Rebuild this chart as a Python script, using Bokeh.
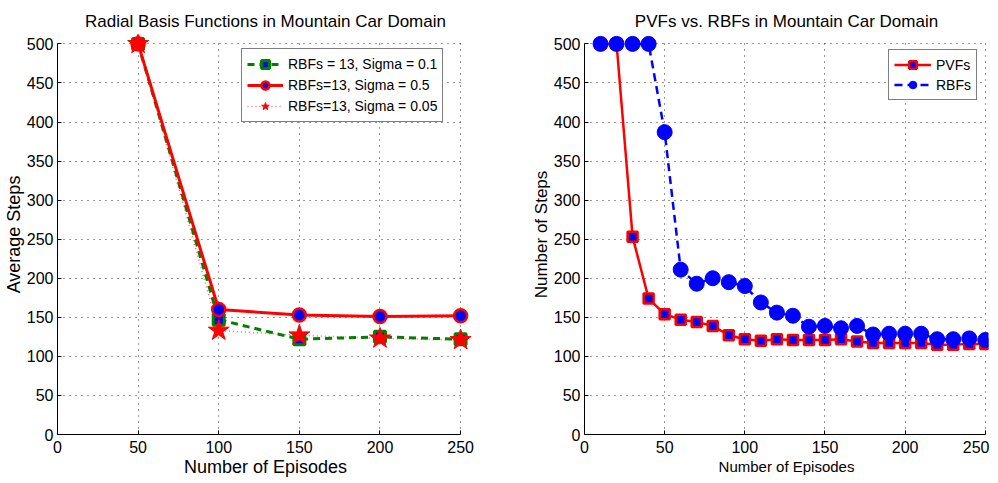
from bokeh.plotting import figure
from bokeh.layouts import row
from bokeh.models import Legend, LegendItem, FixedTicker, Range1d
from bokeh.embed import file_html
from bokeh.resources import INLINE

# ---------------- data ----------------
# Left chart: Radial Basis Functions in Mountain Car Domain
episodes_left = [50, 100, 150, 200, 250]
rbf_sigma_01 = [500, 147, 122, 125, 122]
rbf_sigma_05 = [500, 160, 153, 151, 152]
rbf_sigma_005 = [500, 133, 127, 123, 121]

# Right chart: PVFs vs. RBFs in Mountain Car Domain
episodes_right = [10, 20, 30, 40, 50, 60, 70, 80, 90, 100, 110, 120, 130,
                  140, 150, 160, 170, 180, 190, 200, 210, 220, 230, 240, 250]
pvfs = [500, 500, 253, 174, 154, 147, 144, 139, 127, 122, 120, 122, 121,
        121, 121, 122, 119, 117, 117, 117, 117, 115, 115, 116, 116]
rbfs = [500, 500, 500, 500, 387, 211, 193, 200, 195, 190, 169, 156, 152,
        138, 139, 136, 139, 128, 129, 129, 129, 122, 122, 123, 121]

x_ticks = [0, 50, 100, 150, 200, 250]
y_ticks = [0, 50, 100, 150, 200, 250, 300, 350, 400, 450, 500]

FONT = "Liberation Sans"
GREEN = "#008000"
RED = "#ff0000"
BLUE = "#0000ff"


def make_fig(title, x_end, frame_w, left_b, right_b, xlabel, ylabel,
             xl_size, yl_size, xl_standoff):
    p = figure(output_backend="svg", toolbar_location=None,
               frame_width=frame_w, frame_height=400,
               min_border_left=left_b, min_border_right=right_b,
               min_border_top=34, min_border_bottom=46,
               x_range=Range1d(0, x_end), y_range=Range1d(0, 512),
               title=title, background_fill_color="white",
               border_fill_color="white")
    p.outline_line_color = None
    p.title.text_font = FONT
    p.title.text_font_size = "17px"
    p.title.text_font_style = "normal"
    p.title.align = "center"
    p.title.standoff = 8
    p.title.text_color = "black"

    for ax, lab, sz, tk in ((p.xaxis[0], xlabel, xl_size, x_ticks),
                            (p.yaxis[0], ylabel, yl_size, y_ticks)):
        ax.ticker = FixedTicker(ticks=tk)
        ax.axis_label = lab
        ax.axis_label_text_font = FONT
        ax.axis_label_text_font_size = sz
        ax.axis_label_text_font_style = "normal"
        ax.axis_label_text_color = "black"
        ax.major_label_text_font = FONT
        ax.major_label_text_font_size = "16px"
        ax.major_label_text_color = "black"
        ax.major_tick_in = 4
        ax.major_tick_out = 0
        ax.minor_tick_line_color = None
        ax.axis_line_color = "black"
        ax.major_tick_line_color = "black"
        ax.axis_label_standoff = 0
        ax.major_label_standoff = 4
    p.xaxis.axis_label_standoff = xl_standoff
    p.xaxis.major_label_standoff = 6
    p.xaxis.bounds = (0, 250)
    p.yaxis.bounds = (0, 500)

    for g in (p.xgrid[0], p.ygrid[0]):
        g.grid_line_color = "#333333"
        g.grid_line_dash = "1 5"
        g.grid_line_width = 1
    p.xgrid.ticker = FixedTicker(ticks=x_ticks)
    p.ygrid.ticker = FixedTicker(ticks=y_ticks)
    p.xgrid.cross_bounds = (0, 500)
    p.ygrid.cross_bounds = (0, 250)
    return p


def style_legend(lg, gw, gh):
    lg.label_text_font = FONT
    lg.label_text_font_size = "14px"
    lg.label_text_color = "black"
    lg.glyph_width = gw
    lg.glyph_height = gh
    lg.label_height = gh
    lg.label_standoff = 5
    lg.padding = 5
    lg.spacing = 1
    lg.border_line_color = "black"
    lg.border_line_width = 1.5
    lg.background_fill_color = "white"
    lg.background_fill_alpha = 1.0
    lg.margin = 0


# ---------------- left figure ----------------
p1 = make_fig("Radial Basis Functions in Mountain Car Domain", 258, 416, 50, 25,
              "Number of Episodes", "Average Steps", "18px", "18px", 1)

l1 = p1.line(episodes_left, rbf_sigma_01, line_color=GREEN, line_width=3,
             line_dash="7 5")
m1 = p1.scatter(episodes_left, rbf_sigma_01, marker="square", size=11,
                fill_color=BLUE, line_color=GREEN, line_width=3)
l2 = p1.line(episodes_left, rbf_sigma_05, line_color=RED, line_width=3)
m2 = p1.scatter(episodes_left, rbf_sigma_05, marker="circle", size=13,
                fill_color=BLUE, line_color=RED, line_width=2.5)
l3 = p1.line(episodes_left, rbf_sigma_005, line_color=RED, line_width=1.5,
             line_dash="1 3", line_alpha=0.6)
m3 = p1.scatter(episodes_left, rbf_sigma_005, marker="star", size=22,
                fill_color=RED, line_color=RED, line_width=1)

leg1 = Legend(items=[
    LegendItem(label="RBFs = 13, Sigma = 0.1", renderers=[l1, m1]),
    LegendItem(label="RBFs=13, Sigma = 0.5", renderers=[l2, m2]),
    LegendItem(label="RBFs=13, Sigma = 0.05", renderers=[l3, m3]),
], location=(184, 312))
style_legend(leg1, 36, 20)
p1.add_layout(leg1)

# ---------------- right figure ----------------
p2 = make_fig("PVFs vs. RBFs in Mountain Car Domain", 252, 404, 86, 1,
              "Number of Episodes", "Number of Steps", "15px", "17px", 2)

l4 = p2.line(episodes_right, pvfs, line_color=RED, line_width=2.5)
m4 = p2.scatter(episodes_right, pvfs, marker="square", size=10,
                fill_color=BLUE, line_color=RED, line_width=2.5)
l5 = p2.line(episodes_right, rbfs, line_color=BLUE, line_width=2.5,
             line_dash="8 5")
m5 = p2.scatter(episodes_right, rbfs, marker="circle", size=15,
                fill_color=BLUE, line_color=BLUE, line_width=1)

leg2 = Legend(items=[
    LegendItem(label="PVFs", renderers=[l4, m4]),
    LegendItem(label="RBFs", renderers=[l5, m5]),
], location=(304, 334))
style_legend(leg2, 37, 19)
p2.add_layout(leg2)

layout = row(p1, p2, spacing=0)
open("out.html", "w").write(file_html(layout, INLINE))
